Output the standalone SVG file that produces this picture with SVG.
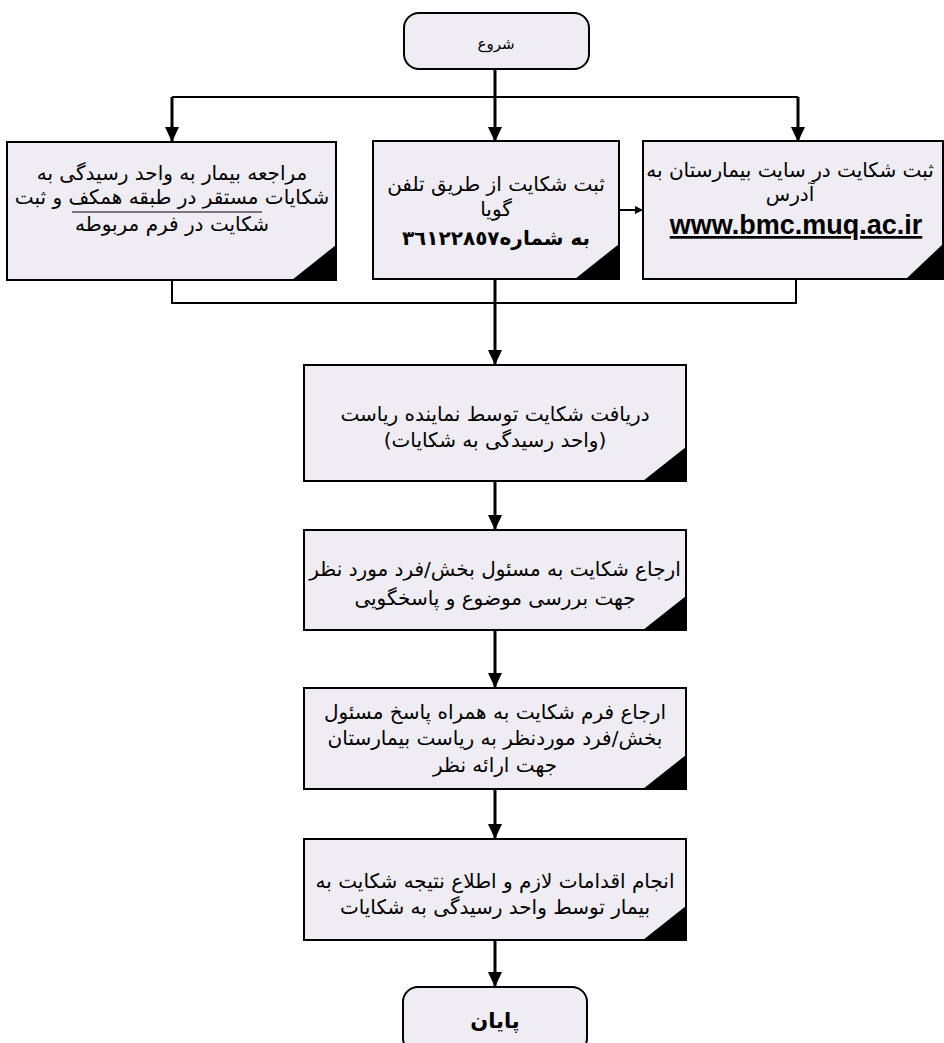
<svg xmlns="http://www.w3.org/2000/svg" width="944" height="1043" viewBox="0 0 944 1043">
<defs>
<marker id="ah" markerWidth="8" markerHeight="8" refX="7" refY="4" orient="auto" markerUnits="userSpaceOnUse" viewBox="0 0 8 8">
<path d="M0,0 L8,4 L0,8 Z" fill="#000"/>
</marker>
<marker id="ahb" markerWidth="15" markerHeight="14" refX="14" refY="7" orient="auto" markerUnits="userSpaceOnUse" viewBox="0 0 15 14">
<path d="M0,0 L15,7 L0,14 Z" fill="#000"/>
</marker>
<style>
.box{fill:#efedf3;stroke:#000;stroke-width:2}
.cor{fill:#000}
.t{font-family:"DejaVu Sans",sans-serif;font-size:20px;fill:#000;text-anchor:middle;direction:rtl}
.b{font-weight:bold}
.c{fill:none;stroke:#000;stroke-width:2}
.cb{fill:none;stroke:#000;stroke-width:3}
</style>
</defs>
<rect width="944" height="1043" fill="#fff"/>
<g id="connectors">
<path class="cb" d="M495,69 V97"/>
<path class="c" d="M172,97 H798"/>
<path class="cb" d="M172,97 V141" marker-end="url(#ahb)"/>
<path class="cb" d="M495,97 V141" marker-end="url(#ahb)"/>
<path class="cb" d="M798,97 V141" marker-end="url(#ahb)"/>
<path class="c" d="M619,210 H642" marker-end="url(#ah)"/>
<path class="c" d="M172,280 V303 H796 V279"/>
<path class="cb" d="M495,279 V364" marker-end="url(#ahb)"/>
<path class="cb" d="M495,481 V529" marker-end="url(#ahb)"/>
<path class="cb" d="M495,630 V687" marker-end="url(#ahb)"/>
<path class="cb" d="M495,789 V838" marker-end="url(#ahb)"/>
<path class="cb" d="M495,940 V986" marker-end="url(#ahb)"/>
</g>
<g id="start">
<rect class="box" x="404" y="13" width="185" height="56" rx="15"/>
<text class="t" x="496" y="49" style="font-size:15px">شروع</text>
</g>
<g id="n_visit">
<rect class="box" x="7" y="142" width="329" height="138"/>
<path class="cor" d="M336,245 V280 H292 Z"/>
<text class="t" x="172" y="180">مراجعه بیمار به واحد رسیدگی به</text>
<text class="t" x="172" y="204">شکایات مستقر در طبقه همکف و ثبت</text>
<line x1="72" y1="212" x2="262" y2="212" stroke="#000" stroke-width="1"/>
<text class="t" x="172" y="231">شکایت در فرم مربوطه</text>
</g>
<g id="n_phone">
<rect class="box" x="373" y="141" width="246" height="138"/>
<path class="cor" d="M619,244 V279 H575 Z"/>
<text class="t" x="496" y="191">ثبت شکایت  از طریق تلفن</text>
<text class="t" x="496" y="216">گویا</text>
<text class="t b" x="496" y="245">به شماره٣٦١٢٢٨٥٧</text>
</g>
<g id="n_site">
<rect class="box" x="643" y="141" width="300" height="138"/>
<path class="cor" d="M943,244 V279 H906 Z"/>
<text class="t" x="790" y="177">ثبت شکایت در سایت بیمارستان به</text>
<text class="t" x="790" y="201">آدرس</text>
<text x="796" y="234" text-anchor="middle" font-family="Liberation Sans, Arial, sans-serif" font-weight="bold" font-size="27" text-decoration="underline">www.bmc.muq.ac.ir</text>
</g>
<g id="n_receive">
<rect class="box" x="304" y="365" width="382" height="116"/>
<path class="cor" d="M686,447 V481 H643 Z"/>
<text class="t" x="495" y="421">دریافت شکایت توسط نماینده ریاست</text>
<text class="t" x="495" y="447">(واحد رسیدگی به شکایات)</text>
</g>
<g id="n_refer">
<rect class="box" x="304" y="530" width="382" height="100"/>
<path class="cor" d="M686,596 V630 H643 Z"/>
<text class="t" x="495" y="576">ارجاع شکایت به مسئول بخش/فرد مورد نظر</text>
<text class="t" x="495" y="605">جهت بررسی موضوع و پاسخگویی</text>
</g>
<g id="n_return">
<rect class="box" x="304" y="688" width="382" height="101"/>
<path class="cor" d="M686,755 V789 H643 Z"/>
<text class="t" x="495" y="719">ارجاع فرم شکایت به همراه پاسخ مسئول</text>
<text class="t" x="495" y="745">بخش/فرد موردنظر به ریاست بیمارستان</text>
<text class="t" x="495" y="772">جهت ارائه نظر</text>
</g>
<g id="n_action">
<rect class="box" x="304" y="839" width="382" height="101"/>
<path class="cor" d="M686,906 V940 H643 Z"/>
<text class="t" x="495" y="888">انجام اقدامات لازم و اطلاع نتیجه شکایت به</text>
<text class="t" x="495" y="914">بیمار توسط واحد رسیدگی به شکایات</text>
</g>
<g id="end">
<rect class="box" x="403" y="987" width="184" height="66" rx="15"/>
<text class="t b" x="495" y="1028" style="font-size:21px">پایان</text>
</g>
</svg>
